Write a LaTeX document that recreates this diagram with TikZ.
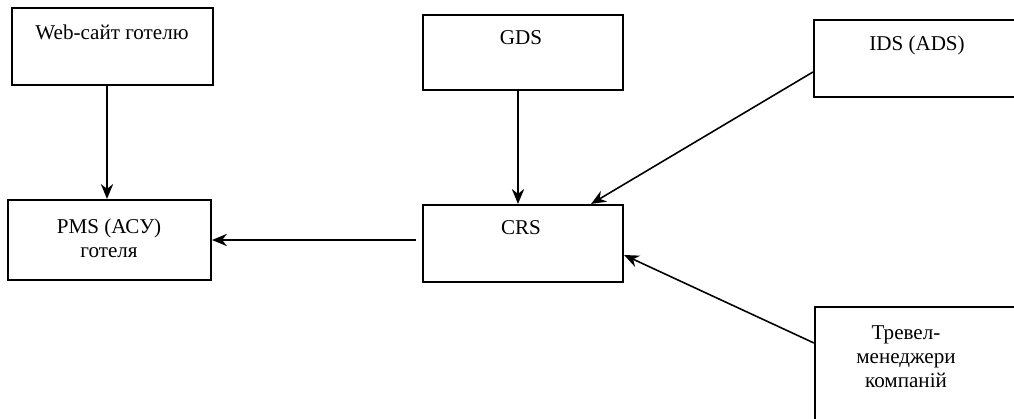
\documentclass[tikz,border=0pt]{standalone}
\usepackage{fontspec}
\setmainfont{Liberation Serif}
\usetikzlibrary{arrows.meta}
\tikzset{
  box/.style={draw, line width=1.2pt, rectangle, inner sep=0pt},
  txt/.style={font=\fontsize{12}{13.6}\selectfont, align=center, inner sep=0pt},
  arr/.style={line width=0.9pt, -{Stealth[length=8.5pt,width=7pt]}}
}
\begin{document}
\begin{tikzpicture}[x=0.02cm,y=-0.02cm]
\useasboundingbox (0,0) rectangle (1014,419);
\clip (0,0) rectangle (1014,419);
\fill[white] (0,0) rectangle (1014,419);
% boxes
\node[box, minimum width=4.02cm, minimum height=1.54cm] (web) at (112.5,46.5) {};
\node[box, minimum width=4.0cm, minimum height=1.5cm] (gds) at (523,52.5) {};
\node[box, minimum width=4.12cm, minimum height=1.54cm] (ids) at (917,58.5) {};
\node[box, minimum width=4.06cm, minimum height=1.6cm] (pms) at (109.5,240) {};
\node[box, minimum width=4.0cm, minimum height=1.54cm] (crs) at (523,243.5) {};
\node[box, minimum width=4.1cm, minimum height=2.36cm] (trv) at (917.5,366) {};
% texts
\node[txt] (tweb) at (112,32) {Web-сайт готелю};
\node[txt] (tgds) at (521,38) {GDS};
\node[txt] (tids) at (917,45) {IDS (ADS)};
\node[txt] (tpms) at (109,238.5) {PMS (АСУ)\\готеля};
\node[txt] (tcrs) at (521,228) {CRS};
\node[txt] (ttrv) at (906,357) {Тревел-\\менеджери\\компаній};
% connectors
\draw[arr] ([xshift=-0.11cm]web.south) -- ([xshift=-0.05cm]pms.north);
\draw[arr] ([xshift=-0.1cm]gds.south) -- ([xshift=-0.1cm]crs.north);
\draw[arr] ([yshift=-0.27cm]ids.west) -- ([xshift=-0.66cm]crs.north east);
\draw[arr] ([yshift=0.46cm]trv.west) -- ([yshift=-0.23cm]crs.east);
\draw[arr] ([xshift=-0.12cm]crs.west |- pms.east) -- (pms.east);
\end{tikzpicture}
\end{document}
